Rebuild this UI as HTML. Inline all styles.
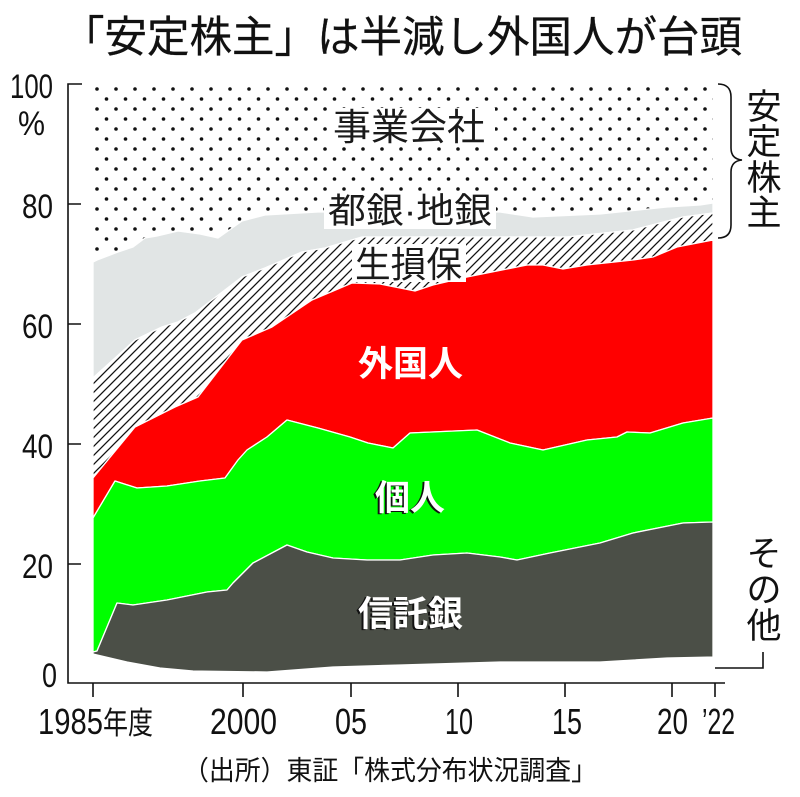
<!DOCTYPE html>
<html><head><meta charset="utf-8"><style>
html,body{margin:0;padding:0;background:#fff;}
svg{display:block;}
.cjk{font-family:"Liberation Sans","Noto Sans CJK JP",sans-serif;}
.num{font-family:"Liberation Sans",sans-serif;}
</style></head><body>
<svg width="800" height="797" viewBox="0 0 800 797" xmlns="http://www.w3.org/2000/svg">
<defs>
<pattern id="dots" patternUnits="userSpaceOnUse" x="97" y="89" width="19" height="20">
<rect width="19" height="20" fill="#fff"/>
<circle cx="0" cy="0" r="1.8" fill="#111"/><circle cx="19" cy="0" r="1.8" fill="#111"/>
<circle cx="0" cy="20" r="1.8" fill="#111"/><circle cx="19" cy="20" r="1.8" fill="#111"/>
<circle cx="9.5" cy="10" r="1.8" fill="#111"/>
</pattern>
<pattern id="hatch" patternUnits="userSpaceOnUse" width="9" height="9">
<rect width="9" height="9" fill="#fff"/>
<path d="M0,9 L9,0 M-2,2 L2,-2 M7,11 L11,7" stroke="#111" stroke-width="1.3"/>
</pattern>
</defs>

<!-- Title -->
<text class="cjk" x="62" y="52" font-size="43" textLength="680" lengthAdjust="spacingAndGlyphs" fill="#111" stroke="#111" stroke-width="0.3">「安定株主」は半減し外国人が台頭</text>

<!-- regions -->
<g stroke="#fff" stroke-width="1.3" stroke-linejoin="round">
<path fill="url(#dots)" stroke="none" d="M93,84 L713,84 L713,203 700,205 667,207 600,214 533,217 500,212 420,212 318,212 265,215 242,221 218,238 200,234 178,231 157,236 145,238 133,247 118,252 97,260 93,262 Z"/>
<path fill="#e1e5e5" d="M93,262 97,260 118,252 133,247 145,238 157,236 178,231 200,234 218,238 242,221 265,215 318,212 420,212 500,212 533,217 600,214 667,207 700,205 713,203 L713,213 683,217 633,230 567,237 467,237 362,237 325,248 302,252 265,268 242,277 195,313 178,322 162,327 135,340 93,378 Z"/>
<path fill="url(#hatch)" d="M93,378 135,340 162,327 178,322 195,313 242,277 265,268 302,252 325,248 362,237 467,237 567,237 633,230 683,217 713,213 L713,240 677,247 653,257 633,260 587,265 563,269 543,265 527,265 467,277 433,285 415,291 380,284 352,283 312,300 272,327 242,340 198,397 175,407 135,427 93,478 Z"/>
<path fill="#ff0000" d="M93,478 135,427 175,407 198,397 242,340 272,327 312,300 352,283 380,284 415,291 433,285 467,277 527,265 543,265 563,269 587,265 633,260 653,257 677,247 713,240 L713,418 683,423 650,433 627,432 617,437 587,440 543,450 510,443 477,430 410,433 393,448 368,443 350,437 318,428 287,420 267,437 247,450 238,460 225,478 200,481 167,486 137,488 115,481 93,518 Z"/>
<path fill="#00ff00" d="M93,518 115,481 137,488 167,486 200,481 225,478 238,460 247,450 267,437 287,420 318,428 350,437 368,443 393,448 410,433 477,430 510,443 543,450 587,440 617,437 627,432 650,433 683,423 713,418 L713,522 683,523 633,533 600,543 550,553 517,560 500,557 467,553 433,555 400,560 367,560 333,558 307,552 287,545 253,563 233,583 227,590 207,592 167,600 133,605 117,603 97,651 93,652 Z"/>
<path fill="#4b4f47" d="M93,652 97,651 117,603 133,605 167,600 207,592 227,590 233,583 253,563 287,545 307,552 333,558 367,560 400,560 433,555 467,553 500,557 517,560 550,553 600,543 633,533 683,523 713,522 L713,657 667,658 600,662 500,662 400,665 333,667 267,672 193,671 160,668 127,662 93,654 Z"/>
</g>

<!-- label backgrounds -->
<rect x="328" y="108" width="167" height="38" fill="#fff"/>
<rect x="324" y="193" width="172" height="36" fill="#fff"/>
<rect x="352" y="244" width="114" height="38" fill="#fff"/>

<!-- region labels -->
<g class="cjk" fill="#1a1a1a">
<text x="333" y="140" font-size="37" textLength="152" lengthAdjust="spacingAndGlyphs">事業会社</text>
<text x="328" y="223" font-size="35" textLength="164" lengthAdjust="spacingAndGlyphs">都銀·地銀</text>
<text x="355" y="277" font-size="36" textLength="107" lengthAdjust="spacingAndGlyphs">生損保</text>
</g>
<g class="cjk" font-weight="bold" font-size="35">
<text x="358" y="376" textLength="105" lengthAdjust="spacingAndGlyphs" fill="#fff">外国人</text>
<text x="373" y="511" textLength="70" lengthAdjust="spacingAndGlyphs" fill="#111">個人</text>
<text x="375" y="510" textLength="70" lengthAdjust="spacingAndGlyphs" fill="#fff">個人</text>
<text x="356" y="627" textLength="105" lengthAdjust="spacingAndGlyphs" fill="#111">信託銀</text>
<text x="358" y="626" textLength="105" lengthAdjust="spacingAndGlyphs" fill="#fff">信託銀</text>
</g>

<!-- axes -->
<g stroke="#111" stroke-width="1.6" fill="none">
<path d="M82,84 L68,84 L68,683 L725,683"/>
<path d="M68,204 L81,204 M68,324 L81,324 M68,444 L81,444 M68,564 L81,564"/>
<path d="M93,683 L93,697 M243,683 L243,697 M351,683 L351,697 M458,683 L458,697 M565,683 L565,697 M672,683 L672,697 M715,683 L715,697"/>
<path d="M718,84 Q731,84 731,97 L731,148 Q731,159 742,160 Q731,161 731,172 L731,225 Q731,238 718,238"/>
<path d="M715,668 L763,668 L763,652"/>
</g>

<!-- y labels -->
<g class="num" fill="#111" font-size="34">
<text x="10" y="98" textLength="43" lengthAdjust="spacingAndGlyphs">100</text>
<text x="18" y="135" textLength="27" lengthAdjust="spacingAndGlyphs">%</text>
<text x="22" y="218" textLength="31" lengthAdjust="spacingAndGlyphs">80</text>
<text x="22" y="338" textLength="31" lengthAdjust="spacingAndGlyphs">60</text>
<text x="22" y="458" textLength="31" lengthAdjust="spacingAndGlyphs">40</text>
<text x="22" y="578" textLength="31" lengthAdjust="spacingAndGlyphs">20</text>
<text x="42" y="687" textLength="15" lengthAdjust="spacingAndGlyphs">0</text>
</g>

<!-- x labels -->
<g class="num" fill="#111" font-size="36">
<text x="38" y="734" textLength="65" lengthAdjust="spacingAndGlyphs">1985</text>
<text x="210" y="734" textLength="67" lengthAdjust="spacingAndGlyphs">2000</text>
<text x="335" y="734" textLength="32" lengthAdjust="spacingAndGlyphs">05</text>
<text x="445" y="734" textLength="28" lengthAdjust="spacingAndGlyphs">10</text>
<text x="552" y="734" textLength="30" lengthAdjust="spacingAndGlyphs">15</text>
<text x="657" y="734" textLength="31" lengthAdjust="spacingAndGlyphs">20</text>
<text x="702" y="734" textLength="33" lengthAdjust="spacingAndGlyphs">’22</text>
</g>
<text class="cjk" x="103" y="734" font-size="31" textLength="50" lengthAdjust="spacingAndGlyphs" fill="#111">年度</text>

<!-- right labels -->
<g class="cjk" fill="#111" font-size="35" text-anchor="middle">
<text x="764" y="119">安</text>
<text x="764" y="154">定</text>
<text x="764" y="190">株</text>
<text x="764" y="225">主</text>
<text x="764" y="566">そ</text>
<text x="764" y="602">の</text>
<text x="764" y="638">他</text>
</g>

<!-- source -->
<text class="cjk" x="183" y="780" font-size="27" textLength="414" lengthAdjust="spacingAndGlyphs" fill="#111">（出所）東証「株式分布状況調査」</text>
</svg>
</body></html>
